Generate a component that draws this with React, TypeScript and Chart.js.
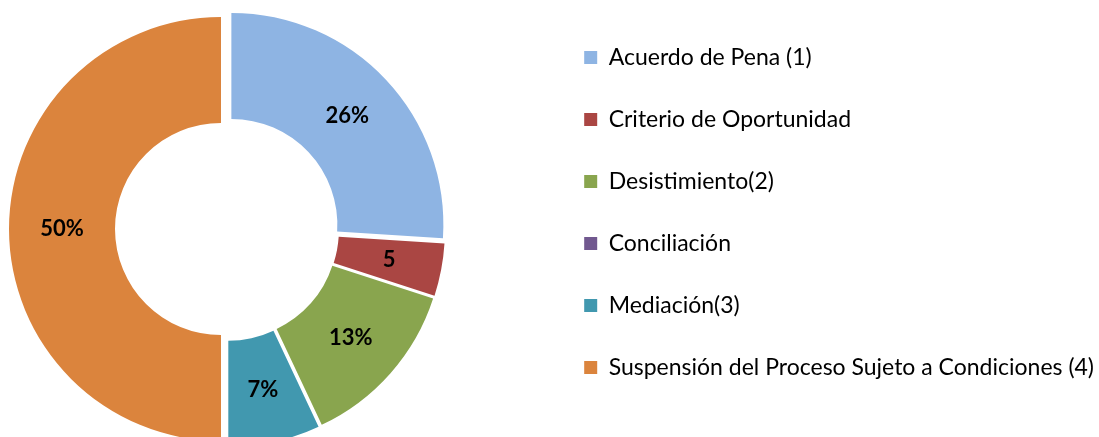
import React, { useEffect, useRef } from "react";
import { Chart, registerables } from "chart.js";

Chart.register(...registerables);

// ---- data ----
const categories = [
  "Acuerdo de Pena (1)",
  "Criterio de Oportunidad",
  "Desistimiento(2)",
  "Conciliación",
  "Mediación(3)",
  "Suspensión del Proceso Sujeto a Condiciones (4)",
];
const shares = [26, 4, 13, 0, 7, 50];
const sliceLabels = ["26%", "5", "13%", "", "7%", "50%"];
const colors = ["#8EB4E3", "#AA4643", "#89A54E", "#71588F", "#4198AF", "#DB843D"];

// ---- layout / style ----
const FONT = "Lato, 'Noto Sans', sans-serif";
const EXPLODE = 6; // px each slice is pulled out
const PIE_CX = 227;
const PIE_CY = 229;
const PIE_R = 212;

const piePlugin = {
  id: "pieLayout",
  afterLayout(chart: any) {
    const left = PIE_CX - PIE_R;
    const top = PIE_CY - PIE_R;
    chart.chartArea = {
      left,
      top,
      right: left + 2 * PIE_R,
      bottom: top + 2 * PIE_R,
      width: 2 * PIE_R,
      height: 2 * PIE_R,
    };
  },
  afterDatasetsUpdate(chart: any) {
    const meta = chart.getDatasetMeta(0);
    meta.data.forEach((arc: any) => {
      const mid = (arc.startAngle + arc.endAngle) / 2;
      arc.x += Math.cos(mid) * EXPLODE;
      arc.y += Math.sin(mid) * EXPLODE;
    });
  },
  afterDatasetsDraw(chart: any) {
    const ctx = chart.ctx;
    const meta = chart.getDatasetMeta(0);
    ctx.save();
    ctx.font = `bold 22px ${FONT}`;
    ctx.fillStyle = "#000";
    ctx.textAlign = "center";
    ctx.textBaseline = "middle";
    meta.data.forEach((arc: any, i: number) => {
      const txt = sliceLabels[i];
      if (!txt || arc.endAngle - arc.startAngle <= 0) return;
      const mid = (arc.startAngle + arc.endAngle) / 2;
      const r = (arc.innerRadius + arc.outerRadius) / 2;
      ctx.fillText(txt, arc.x + Math.cos(mid) * r, arc.y + Math.sin(mid) * r);
    });
    ctx.restore();
  },
};

export default function App() {
  const ref = useRef<HTMLCanvasElement | null>(null);

  useEffect(() => {
    if (!ref.current) return;
    const chart = new Chart(ref.current, {
      type: "doughnut",
      data: {
        labels: categories,
        datasets: [
          {
            data: shares,
            backgroundColor: colors,
            borderWidth: 0,
            hoverOffset: 0,
            clip: false as any,
          },
        ],
      },
      options: {
        animation: false,
        responsive: true,
        maintainAspectRatio: false,
        cutout: "50%",
        layout: { padding: { bottom: 12, right: -5 } },
        plugins: {
          legend: {
            position: "right",
            align: "center",
            maxWidth: 800,
            labels: {
              boxWidth: 13,
              boxHeight: 13,
              padding: 39,
              color: "#000",
              font: { family: FONT, size: 23 },
            },
          },
          tooltip: { enabled: false },
        },
      },
      plugins: [piePlugin],
    });
    return () => chart.destroy();
  }, []);

  return (
    <div style={{ position: "absolute", left: 0, top: 0, width: 1099, height: 437 }}>
      <canvas ref={ref} />
    </div>
  );
}
